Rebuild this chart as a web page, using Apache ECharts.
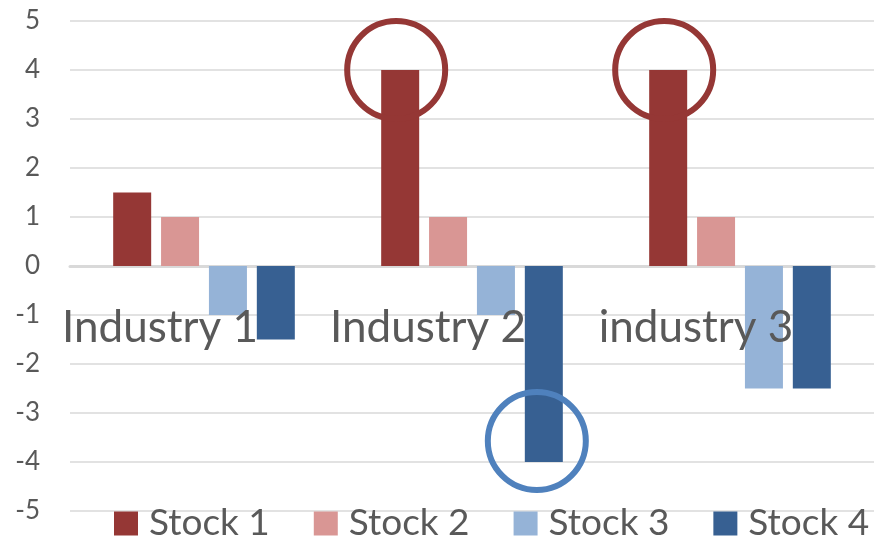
<!DOCTYPE html>
<html>
<head>
<meta charset="utf-8">
<script src="https://cdn.jsdelivr.net/npm/echarts@6/dist/echarts.min.js"></script>
<style>html,body{margin:0;padding:0;background:#fff}#c{width:876px;height:538px}</style>
</head>
<body>
<div id="c"></div>
<script>
const categories = ['Industry 1', 'Industry 2', 'industry 3'];
const seriesNames = ['Stock 1', 'Stock 2', 'Stock 3', 'Stock 4'];
const stock1 = [1.5, 4, 4];
const stock2 = [1, 1, 1];
const stock3 = [-1, -1, -2.5];
const stock4 = [-1.5, -4, -2.5];
const colors = ['#953735', '#D99694', '#95B3D7', '#376092'];
const yTicks = [-5, -4, -3, -2, -1, 0, 1, 2, 3, 4, 5];
// annotation circles: [category, value]
const redCircles = [['Industry 2', 4], ['industry 3', 4]];
const blueCircles = [['Industry 2', -3.57]];

const textColor = '#595959';
const font = 'Lato';
const values = [stock1, stock2, stock3, stock4];

const series = seriesNames.map((name, i) => ({
  name: name,
  type: 'bar',
  data: values[i],
  barWidth: 38,
  barGap: '26%',
  itemStyle: { color: colors[i] },
  emphasis: { disabled: true }
}));
series[0].markPoint = {
  symbol: 'circle',
  symbolSize: 98,
  symbolOffset: [-4, 0],
  silent: true,
  label: { show: false },
  itemStyle: { color: 'rgba(0,0,0,0)', borderColor: '#953735', borderWidth: 6 },
  data: redCircles.map(c => ({ coord: c }))
};
series[3].markPoint = {
  symbol: 'circle',
  symbolSize: 98,
  symbolOffset: [-7, 0],
  silent: true,
  label: { show: false },
  itemStyle: { color: 'rgba(0,0,0,0)', borderColor: '#4F81BD', borderWidth: 6 },
  data: blueCircles.map(c => ({ coord: c }))
};

const chart = echarts.init(document.getElementById('c'), null, { renderer: 'canvas' });
chart.setOption({
  animation: false,
  color: colors,
  textStyle: { fontFamily: font },
  grid: { left: 70, right: 2, top: 21, bottom: 27, containLabel: false, outerBoundsMode: 'none' },
  legend: {
    data: seriesNames,
    left: 114,
    top: 505,
    padding: 0,
    itemWidth: 24,
    itemHeight: 24,
    itemGap: 44,
    icon: 'rect',
    textStyle: { fontFamily: font, fontSize: 37, color: textColor, lineHeight: 30, padding: [0, 0, 0, 6] }
  },
  xAxis: [{
    type: 'category',
    data: categories,
    axisLine: { onZero: true, lineStyle: { color: '#d9d9d9', width: 3 } },
    axisTick: { show: false },
    axisLabel: { show: false },
    splitLine: { show: false }
  }, {
    type: 'category',
    data: categories,
    position: 'bottom',
    offset: -245,
    z: 20,
    axisLine: { show: false, onZero: false },
    axisTick: { show: false },
    axisLabel: {
      interval: 0, hideOverlap: false,
      fontFamily: font, fontSize: 44, color: textColor, lineHeight: 44,
      margin: 40, padding: [0, 88, 0, 0]
    },
    splitLine: { show: false }
  }],
  yAxis: {
    type: 'value',
    min: yTicks[0],
    max: yTicks[yTicks.length - 1],
    interval: 1,
    axisLine: { show: false },
    axisTick: { show: false },
    axisLabel: { fontFamily: font, fontSize: 26, color: textColor, margin: 30 },
    splitLine: { lineStyle: { color: '#d9d9d9', width: 1.5 } }
  },
  series: series
});
</script>
</body>
</html>
